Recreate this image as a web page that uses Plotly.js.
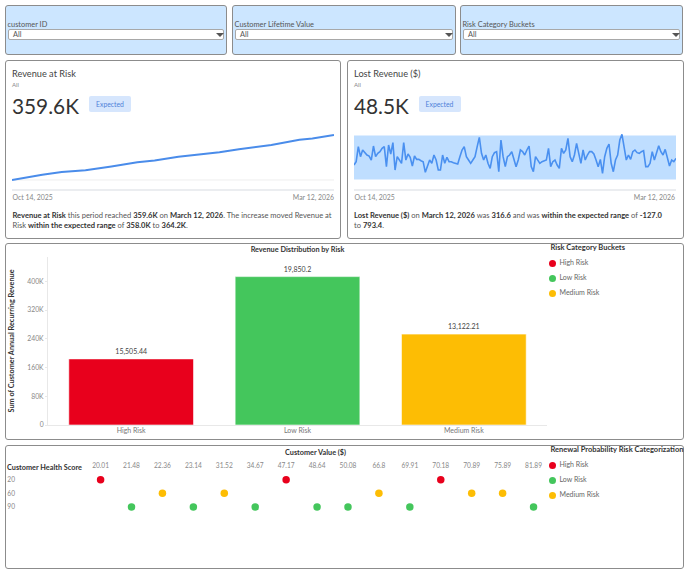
<!DOCTYPE html>
<html><head><meta charset="utf-8">
<script src="https://cdn.plot.ly/plotly-3.0.1.min.js"></script>
<style>
html,body{margin:0;padding:0;background:#fff;width:688px;height:573px;overflow:hidden;font-family:Lato,sans-serif;color:#333}
.p{position:absolute;box-sizing:border-box;border:1px solid #8c8c8c;border-radius:3px;background:#fff}
.f{background:#cce6ff}
.t{position:absolute;white-space:nowrap;line-height:1}
.sel{position:absolute;box-sizing:border-box;background:#fff;border:1px solid #a8a8a8;border-radius:2px;height:11px;top:29px}
.arrow{position:absolute;width:0;height:0;border-left:4px solid transparent;border-right:4px solid transparent;border-top:4.5px solid #555;top:32.5px}
.plot{position:absolute}
.dot{position:absolute;width:7px;height:7px;border-radius:50%}
.badge{position:absolute;background:#d6e6fd;color:#4f81d9;border-radius:2px;font-size:6.8px;height:16px;line-height:16px;text-align:center;top:96px;width:42px}
.para{position:absolute;font-size:7.55px;line-height:10.2px;color:#555;top:211px;white-space:nowrap}
.para b{color:#333;font-weight:700}
</style></head><body>
<div id="root"></div>
<div id="line1" class="plot" style="left:12px;top:130px;width:322px;height:62px"></div>
<div id="line2" class="plot" style="left:354px;top:130px;width:322px;height:62px"></div>
<div id="bars" class="plot" style="left:6px;top:244px;width:545px;height:194px"></div>
<div id="dots" class="plot" style="left:6px;top:446px;width:545px;height:121px"></div>
<script>
// ---- Data ----
const filterLabels = ["customer ID", "Customer Lifetime Value", "Risk Category Buckets"];
const riskCategories = ["High Risk", "Low Risk", "Medium Risk"];
const riskColors = ["#e8001c", "#44c65c", "#fdbd04"];
const barHeights = [184000, 413000, 253000];
const barLabels = ["15,505.44", "19,850.2", "13,122.21"];
const barTicks = [0, 80000, 160000, 240000, 320000, 400000];
const barTickLabels = ["0", "80K", "160K", "240K", "320K", "400K"];

const atRiskDays = [0, 6, 14, 23, 34, 46, 58, 66, 77, 96, 105, 120, 133, 139, 149];
const atRiskValues = [239900, 246000, 254000, 261000, 266000, 276000, 287000, 292000, 302000, 314000, 322000, 333000, 347000, 350000, 359600];

const lostRevenue = [178,247,561,352,492,436,387,366,282,575,352,422,457,526,561,143,596,408,645,73,352,282,213,645,282,408,338,157,366,296,296,268,247,24,143,282,213,387,282,73,73,387,213,338,247,247,227,213,199,352,492,561,
352,282,213,282,352,561,756,422,282,387,213,108,352,436,457,38,700,352,143,352,387,457,282,143,282,492,457,387,492,575,143,38,352,282,213,247,261,282,526,143,247,282,178,108,526,422,492,735,352,247,387,631,422,213,492,282,387,457,457,408,282,143,296,3,352,526,617,213,38,282,387,700,819,561,282,387,296,457,492,436,422,457,477,143,143,213,457,282,422,582,457,387,505,352,157,282,247,316.6];
const lostLower = -127.0;
const lostUpper = 793.4;

const customerValues = ["20.01","21.48","22.36","23.14","31.52","34.67","47.17","48.64","50.08","66.8","69.91","70.18","70.89","75.89","81.89"];
const dotValues = ["20.01","47.17","70.18","21.48","23.14","34.67","48.64","50.08","69.91","81.89","22.36","31.52","66.8","70.89","75.89"];
const dotScores = ["20","20","20","90","90","90","90","90","90","90","60","60","60","60","60"];
const dotRisks = [0,0,0,1,1,1,1,1,1,1,2,2,2,2,2];
const healthRows = ["20","60","90"];

// ---- Page furniture ----
const root = document.getElementById("root");
function el(cls, css, html){const d=document.createElement("div");d.className=cls;d.style.cssText=css;if(html!==undefined)d.innerHTML=html;root.appendChild(d);return d;}
[[5,222],[232,223.5],[460,223]].forEach(([x,w],i)=>{
  el("p f",`left:${x}px;top:4.5px;width:${w}px;height:50px`);
  el("t",`left:${x+2.5}px;top:20.5px;font-size:7.4px;color:#555`,filterLabels[i]);
  el("sel",`left:${x+3}px;width:${w-6}px`);
  el("t",`left:${x+8}px;top:31px;font-size:7.4px;color:#555`,"All");
  el("arrow",`left:${x+w-11}px`);
});
el("p",`left:5px;top:60px;width:336px;height:178.5px`);
el("p",`left:346.5px;top:60px;width:337px;height:178.5px`);
el("p",`left:5px;top:243px;width:678.5px;height:196.5px`);
el("p",`left:5px;top:444.5px;width:678.5px;height:124px`);
[[12,"Revenue at Risk","359.6K",89],[354,"Lost Revenue ($)","48.5K",418.5]].forEach(([x,title,val,bx])=>{
  el("t",`left:${x}px;top:69px;font-size:9.2px;color:#444`,title);
  el("t",`left:${x}px;top:81.5px;font-size:6px;color:#888`,"All");
  el("t",`left:${x}px;top:95.5px;font-size:20.8px;color:#333`,val);
  el("badge",`left:${bx}px`,"Expected");
  el("t",`left:${x+0.5}px;top:194px;font-size:6.9px;color:#888`,"Oct 14, 2025");
  el("t",`left:${x===12?288:629}px;top:194px;font-size:6.9px;color:#888;width:46px;text-align:right`,"Mar 12, 2026");
});
el("para","left:12.5px","<b>Revenue at Risk</b> this period reached <b>359.6K</b> on <b>March 12, 2026</b>. The increase moved Revenue at<br>Risk <b>within the expected range</b> of <b>358.0K</b> to <b>364.2K</b>.");
el("para","left:354px","<b>Lost Revenue ($)</b> on <b>March 12, 2026</b> was <b>316.6</b> and was <b>within the expected range</b> of <b>-127.0</b><br>to <b>793.4</b>.");
function legend(title, y0, yItems){
  el("t",`left:550.5px;top:${y0-4}px;font-size:7.5px;font-weight:700;color:#333`,title);
  riskCategories.forEach((c,i)=>{
    el("dot",`left:549px;top:${yItems+15*i-3.5}px;background:${riskColors[i]}`);
    el("t",`left:559.5px;top:${yItems+15*i-3.7}px;font-size:7px;color:#666`,c);
  });
}
legend("Risk Category Buckets",248,263);
legend("Renewal Probability Risk Categorization",450,465);

// ---- Charts ----
const cfg = {staticPlot:true, displayModeBar:false};
const font = {family:'Lato,sans-serif'};
const hiddenX = {showgrid:false, zeroline:false, showticklabels:false, ticks:"", showline:true, linecolor:"#ebedf0", linewidth:2, range:[0,149]};
function sparkLayout(yRange, extra){
  return Object.assign({width:322,height:62,margin:{l:0,r:0,t:0,b:3},paper_bgcolor:"rgba(0,0,0,0)",plot_bgcolor:"rgba(0,0,0,0)",showlegend:false,
    xaxis:hiddenX, yaxis:Object.assign({range:yRange,showgrid:false,showticklabels:false,ticks:"",showline:false,zeroline:false},extra||{})});
}
const base = 240000;
Plotly.newPlot("line1",[{x:atRiskDays,y:atRiskValues,mode:"lines",line:{color:"#4a8cea",width:2},cliponaxis:false}],
  Object.assign(sparkLayout([216000,372900]),{shapes:[{type:"line",xref:"x",yref:"y",x0:0,x1:149,y0:base,y1:base,line:{color:"#eeeeee",width:1},layer:"below"}]}),cfg);

const days = lostRevenue.map((_,i)=>i);
Plotly.newPlot("line2",[
  {x:days,y:days.map(()=>lostLower),mode:"lines",line:{width:0,color:"rgba(0,0,0,0)"}},
  {x:days,y:days.map(()=>lostUpper),mode:"lines",line:{width:0,color:"rgba(0,0,0,0)"},fill:"tonexty",fillcolor:"#bfdeff"},
  {x:days,y:lostRevenue,mode:"lines",line:{color:"#4a90f0",width:1.6},cliponaxis:false}
],sparkLayout([-324,910],{zeroline:true,zerolinecolor:"#aed3f7",zerolinewidth:1}),cfg);

Plotly.newPlot("bars",[{
  type:"bar",x:riskCategories,y:barHeights,width:0.75,
  marker:{color:riskColors,line:{color:"rgba(255,255,255,0.6)",width:1}},
  text:barLabels,textposition:"outside",cliponaxis:false,
  textfont:Object.assign({},font,{size:7,color:"#444"})
}],{
  width:545,height:194,margin:{l:42,r:4,t:13,b:13},paper_bgcolor:"rgba(0,0,0,0)",plot_bgcolor:"rgba(0,0,0,0)",showlegend:false,font,bargap:0.25,
  title:{text:"Revenue Distribution by Risk",font:Object.assign({},font,{size:7.3,weight:700,color:"#333"}),x:291.5/545,xanchor:"center",y:0.97,yanchor:"middle"},
  xaxis:{type:"category",categoryorder:"array",categoryarray:riskCategories,showline:true,linecolor:"#e8e8e8",linewidth:1,ticks:"",tickfont:Object.assign({},font,{size:7,color:"#777"}),ticklen:0,ticklabelstandoff:-1},
  yaxis:{range:[0,467600],tickmode:"array",tickvals:barTicks,ticktext:barTickLabels,showgrid:false,zeroline:false,showline:true,linecolor:"#e8e8e8",ticks:"outside",ticklen:2,tickcolor:"#e8e8e8",tickfont:Object.assign({},font,{size:6.8,color:"#888"}),
    title:{text:"Sum of Customer Annual Recurring Revenue",font:Object.assign({},font,{size:7.3,weight:700,color:"#333"}),standoff:11}}
},cfg);

Plotly.newPlot("dots",[{
  type:"scatter",mode:"markers",x:dotValues,y:dotScores,
  marker:{size:7.5,color:dotRisks.map(i=>riskColors[i])},cliponaxis:false
}],{
  width:545,height:121,margin:{l:9.5,r:1.5,t:26,b:2},paper_bgcolor:"rgba(0,0,0,0)",plot_bgcolor:"rgba(0,0,0,0)",showlegend:false,font,
  xaxis:{type:"category",side:"top",categoryorder:"array",categoryarray:customerValues,range:[-2.735,14.5],showgrid:false,zeroline:false,showline:false,ticks:"",tickangle:0,ticklabelstandoff:2,tickfont:Object.assign({},font,{size:6.6,color:"#888"})},
  yaxis:{type:"category",categoryorder:"array",categoryarray:healthRows,range:[6.25,-0.56],showgrid:false,zeroline:false,showline:false,ticks:"",ticklen:0,tickfont:Object.assign({},font,{size:6.6,color:"#888"})},
  annotations:[
    {text:"<b>Customer Value ($)</b>",xref:"paper",yref:"paper",x:0.561,y:1,yanchor:"middle",yshift:20,showarrow:false,xanchor:"center",font:Object.assign({},font,{size:7.3,color:"#333"})},
    {text:"<b>Customer Health Score</b>",xref:"paper",yref:"paper",x:0,xshift:-11.5,y:1,yanchor:"middle",yshift:5,showarrow:false,xanchor:"left",font:Object.assign({},font,{size:7.3,color:"#333"})}
  ]
},cfg);
</script>
</body></html>
